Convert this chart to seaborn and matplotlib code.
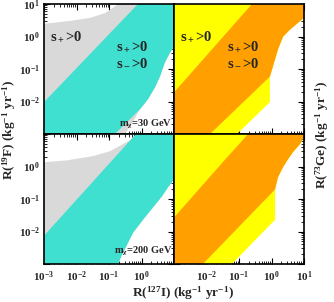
"""Allowed regions of the spin-dependent couplings: 19F vs 127I and 73Ge vs 127I rates."""
import matplotlib
matplotlib.use("Agg")
import matplotlib.pyplot as plt
import numpy as np
import seaborn as sns
from matplotlib.ticker import FixedLocator, FuncFormatter, LogLocator, NullFormatter

# Boundary curves, as log10(rate in kg^-1 yr^-1).
# Left column: R(19F) vs R(127I); right column: R(73Ge) vs R(127I).
# "upper" curves run from the left edge to the top edge, "lower" curves
# run from the bottom edge to the right edge.

# m_chi = 30 GeV, 19F
f30_gray_up_x = [-3.0, -2.2, -1.59, -1.12, -0.88, -0.72]
f30_gray_up_y = [0.39, 0.48, 0.57, 0.72, 0.88, 1.0]
f30_gray_lo_x = [-0.51, -0.25, -0.05, 0.2, 0.415, 0.57, 0.72, 0.877, 1.0]
f30_gray_lo_y = [-3.0, -2.6, -2.24, -1.93, -1.565, -1.23, -0.8, -0.5, -0.31]
f30_cyan_up_x = [-3.0, -0.11]
f30_cyan_up_y = [-2.02, 1.0]
f30_cyan_lo_x = [-0.815, -0.446, -0.046, 0.2, 0.415, 0.57, 0.72, 0.877, 1.0]
f30_cyan_lo_y = [-3.0, -2.63, -2.24, -1.93, -1.565, -1.23, -0.8, -0.5, -0.31]

# m_chi = 200 GeV, 19F
f200_gray_up_x = [-3.0, -2.29, -1.49, -0.97, -0.57, -0.29, -0.14]
f200_gray_up_y = [0.13, 0.19, 0.32, 0.47, 0.69, 0.845, 1.0]
f200_cyan_up_x = [-3.0, -0.17]
f200_cyan_up_y = [-2.13, 1.0]
f200_cyan_lo_x = [-0.72, -0.6, -0.446, -0.26, 0.046, 0.354, 0.63, 0.815, 1.0]
f200_cyan_lo_y = [-3.0, -2.72, -2.41, -2.04, -1.64, -1.26, -0.92, -0.64, -0.4]

# m_chi = 30 GeV, 73Ge
g30_yel_lo_x = [-1.06, -0.05, -0.05, 0.046, 0.2, 0.354, 0.57, 0.78, 1.0]
g30_yel_lo_y = [-3.0, -2.02, -1.23, -0.92, -0.4, -0.01, 0.21, 0.39, 0.57]
g30_org_up_x = [-3.0, -0.6]
g30_org_up_y = [-1.72, 1.0]
g30_org_lo_x = [-1.89, -0.046, 0.046, 0.2, 0.354, 0.57, 0.78, 1.0]
g30_org_lo_y = [-3.0, -1.23, -0.92, -0.4, -0.01, 0.21, 0.39, 0.57]

# m_chi = 200 GeV, 73Ge
g200_yel_lo_x = [-1.22, 0.11, 0.11, 0.2, 0.354, 0.51, 0.66, 0.88, 1.0]
g200_yel_lo_y = [-3.0, -1.64, -0.705, -0.333, -0.023, 0.225, 0.44, 0.69, 0.94]
g200_org_up_x = [-3.0, -1.28, -1.22, -0.72]
g200_org_up_y = [-1.57, 0.38, 0.44, 1.0]
g200_org_lo_x = [-2.11, 0.11, 0.2, 0.354, 0.51, 0.66, 0.88, 1.0]
g200_org_lo_y = [-3.0, -0.705, -0.333, -0.023, 0.225, 0.44, 0.69, 0.94]

LIM = (1e-3, 1e1)
GRAY, CYAN, YELLOW, ORANGE = "#d9d9d9", "#40e0d0", "#ffff00", "#ffa000"

sns.set_theme(style="ticks")
plt.rcParams.update({
    "font.family": ["Liberation Serif", "DejaVu Serif"],
    "font.weight": "bold",
    "mathtext.fontset": "custom",
    "mathtext.rm": "Liberation Serif:bold",
    "mathtext.it": "Liberation Serif:italic:bold",
    "mathtext.bf": "Liberation Serif:bold",
    "mathtext.default": "rm",
})


def region(ax, up_x=None, up_y=None, lo_x=None, lo_y=None, color="k"):
    """Fill the area below the upper curve and above the lower curve."""
    lo, hi = LIM
    xs, ys = [lo], [lo]
    if up_x is not None:
        xs += list(10.0 ** np.asarray(up_x))
        ys += list(10.0 ** np.asarray(up_y))
    else:
        xs.append(lo)
        ys.append(hi)
    xs.append(hi)
    ys.append(hi)
    if lo_x is not None:
        xs += list(10.0 ** np.asarray(lo_x))[::-1]
        ys += list(10.0 ** np.asarray(lo_y))[::-1]
    else:
        xs.append(hi)
        ys.append(lo)
    ax.fill(xs, ys, color=color, lw=0, zorder=1)


def dec_label(v, pos):
    e = int(round(np.log10(v)))
    return r"$10^{%d}$" % e


def style(ax, xlabels, ylabels):
    ax.set_xscale("log")
    ax.set_yscale("log")
    ax.set_xlim(*LIM)
    ax.set_ylim(*LIM)
    for axis, shown in ((ax.xaxis, xlabels), (ax.yaxis, ylabels)):
        axis.set_major_locator(FixedLocator([1e-3, 1e-2, 1e-1, 1e0, 1e1]))
        axis.set_minor_locator(LogLocator(base=10, subs=np.arange(2, 10), numticks=20))
        axis.set_minor_formatter(NullFormatter())
        axis.set_major_formatter(
            FuncFormatter(lambda v, p, s=shown: dec_label(v, p) if any(np.isclose(v, s)) else ""))
    ax.tick_params(which="both", direction="in", top=True, right=True, color="black",
                   labelsize=8)
    ax.tick_params(axis="x", pad=4)
    ax.tick_params(axis="y", pad=3)
    ax.tick_params(which="major", length=4, width=0.8)
    ax.tick_params(which="minor", length=2, width=0.6)
    for sp in ax.spines.values():
        sp.set_linewidth(1.2)
        sp.set_color("black")
        sp.set_zorder(5)


fig, axes = plt.subplots(2, 2, figsize=(3.34, 3.02), dpi=100,
                         gridspec_kw=dict(hspace=0, wspace=0))
fig.subplots_adjust(left=44 / 334, right=304 / 334, bottom=1 - 264 / 302, top=1 - 4 / 302)
(ax_f30, ax_g30), (ax_f200, ax_g200) = axes

region(ax_f30, f30_gray_up_x, f30_gray_up_y, f30_gray_lo_x, f30_gray_lo_y, GRAY)
region(ax_f30, f30_cyan_up_x, f30_cyan_up_y, f30_cyan_lo_x, f30_cyan_lo_y, CYAN)
region(ax_f200, f200_gray_up_x, f200_gray_up_y, f200_cyan_lo_x, f200_cyan_lo_y, GRAY)
region(ax_f200, f200_cyan_up_x, f200_cyan_up_y, f200_cyan_lo_x, f200_cyan_lo_y, CYAN)
region(ax_g30, None, None, g30_yel_lo_x, g30_yel_lo_y, YELLOW)
region(ax_g30, g30_org_up_x, g30_org_up_y, g30_org_lo_x, g30_org_lo_y, ORANGE)
region(ax_g200, None, None, g200_yel_lo_x, g200_yel_lo_y, YELLOW)
region(ax_g200, g200_org_up_x, g200_org_up_y, g200_org_lo_x, g200_org_lo_y, ORANGE)

style(ax_f30, [], [1e-2, 1e-1, 1e0, 1e1])
style(ax_g30, [], [])
style(ax_f200, [1e-3, 1e-2, 1e-1, 1e0], [1e-2, 1e-1, 1e0])
style(ax_g200, [1e-2, 1e-1, 1e0, 1e1], [])

for ax in (ax_f30, ax_g30):
    ax.text(0.17, 0.75, r"s$_+$>0", fontsize=10.5, ha="center", va="center",
            transform=ax.transAxes)
ax_f30.text(0.68, 0.61, "s$_+$>0\ns$_-$>0", fontsize=10.5, ha="center", va="center",
            linespacing=1.15, transform=ax_f30.transAxes)
ax_g30.text(0.53, 0.61, "s$_+$>0\ns$_-$>0", fontsize=10.5, ha="center", va="center",
            linespacing=1.15, transform=ax_g30.transAxes)
ax_f30.text(0.99, 0.025, r"m$_\chi$=30 GeV", fontsize=7.5, ha="right", va="bottom",
            transform=ax_f30.transAxes)
ax_f200.text(0.99, 0.05, r"m$_\chi$=200 GeV", fontsize=7.5, ha="right", va="bottom",
             transform=ax_f200.transAxes)

fig.text(183 / 334, 1 - 293 / 302, r"R($^{127}$I) (kg$^{-1}$ yr$^{-1}$)", fontsize=9.5,
         ha="center", va="center")
fig.text(9 / 334, 1 - 130 / 302, r"R($^{19}$F) (kg$^{-1}$ yr$^{-1}$)", fontsize=9.5,
         ha="center", va="center", rotation=90)
fig.text(322 / 334, 1 - 135 / 302, r"R($^{73}$Ge) (kg$^{-1}$ yr$^{-1}$)", fontsize=9.5,
         ha="center", va="center", rotation=90)

fig.savefig("out.png", dpi=100)
